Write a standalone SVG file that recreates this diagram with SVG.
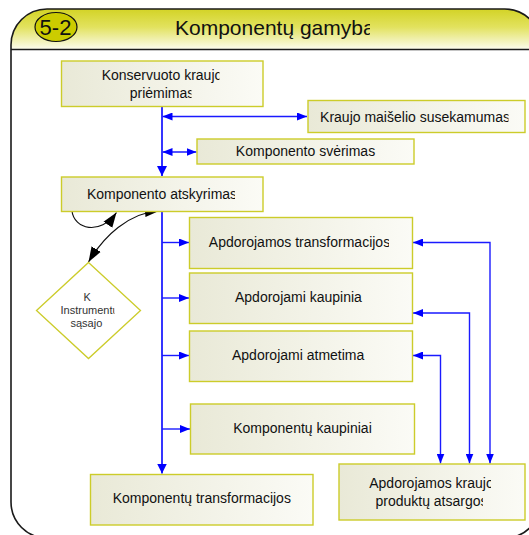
<svg xmlns="http://www.w3.org/2000/svg" width="529" height="535" viewBox="0 0 529 535">
  <defs>
    <linearGradient id="headFill" x1="0" y1="0" x2="0" y2="1">
      <stop offset="0" stop-color="#d3d326"/>
      <stop offset="0.45" stop-color="#e2e25e"/>
      <stop offset="1" stop-color="#fbfbec"/>
    </linearGradient>
    <linearGradient id="boxFill" x1="0" y1="0" x2="1" y2="0">
      <stop offset="0" stop-color="#e9e9d7"/>
      <stop offset="1" stop-color="#fbfbf6"/>
    </linearGradient>
    <marker id="blueHead" viewBox="0 0 10 8" refX="10" refY="4" markerUnits="userSpaceOnUse" markerWidth="10" markerHeight="8" orient="auto-start-reverse">
      <path d="M0,0 L10,4 L0,8 Z" fill="#0000ff"/>
    </marker>
    <marker id="blueBig" viewBox="0 0 10 10" refX="10" refY="5" markerUnits="userSpaceOnUse" markerWidth="10" markerHeight="11" orient="auto">
      <path d="M0,0 L10,5 L0,10 Z" fill="#0000ff"/>
    </marker>
    <marker id="blackHead" viewBox="0 0 14 10" refX="14" refY="5" markerUnits="userSpaceOnUse" markerWidth="15" markerHeight="11" orient="auto-start-reverse">
      <path d="M0,0 L14,5 L0,10 Z" fill="#000"/>
    </marker>
    <clipPath id="cTitle"><rect x="0" y="0" width="370" height="60"/></clipPath>
    <clipPath id="cB1a"><rect x="0" y="60" width="219.5" height="30"/></clipPath>
    <clipPath id="cB1b"><rect x="0" y="84" width="191.5" height="22"/></clipPath>
    <clipPath id="cB2"><rect x="0" y="100" width="508.5" height="32"/></clipPath>
    <clipPath id="cB4"><rect x="0" y="176" width="235" height="35"/></clipPath>
    <clipPath id="cB5"><rect x="0" y="217" width="389" height="51"/></clipPath>
    <clipPath id="cB10a"><rect x="0" y="464" width="491" height="27"/></clipPath>
    <clipPath id="cB10b"><rect x="0" y="491" width="483" height="29"/></clipPath>
    <clipPath id="cD"><rect x="0" y="300" width="114.5" height="16"/></clipPath>
    <style>
      .box { fill: url(#boxFill); stroke: #cccc2a; stroke-width: 1.4; }
      .lbl { font-family: "Liberation Sans", Arial, sans-serif; font-size: 14px; fill: #111; }
      .mid { text-anchor: middle; }
      .dtxt { font-family: "Liberation Sans", Arial, sans-serif; font-size: 11px; fill: #333; }
      .blue { fill: none; stroke: #1a1aff; stroke-width: 1.4; }
      .trunk { fill: none; stroke: #3535ff; stroke-width: 2; }
      .curve { fill: none; stroke: #111; stroke-width: 1.2; }
    </style>
  </defs>

  <!-- frame and header -->
  <g id="frame">
    <path d="M11,49 L11,45 A36,36 0 0 1 47,9 L504.7,9 A36,36 0 0 1 540.7,45 L540.7,49 Z" fill="url(#headFill)"/>
    <path d="M11,49 L11,502 A36,36 0 0 0 47,538 L504.7,538 A36,36 0 0 0 540.7,502 L540.7,45 A36,36 0 0 0 504.7,9 L47,9 A36,36 0 0 0 11,45 Z" fill="none" stroke="#1a1a1a" stroke-width="1.6"/>
    <line x1="11" y1="49.5" x2="541" y2="49.5" stroke="#1a1a1a" stroke-width="1.6"/>
    <ellipse cx="56" cy="27" rx="21" ry="14.5" fill="#cccc00" stroke="#111" stroke-width="1.2"/>
    <text x="55.5" y="34.5" font-family="'Liberation Sans', Arial, sans-serif" font-size="22" fill="#111" text-anchor="middle">5-2</text>
    <text x="175" y="35" font-family="'Liberation Sans', Arial, sans-serif" font-size="21" fill="#111" clip-path="url(#cTitle)">Komponentų gamyba</text>
  </g>

  <!-- connectors -->
  <g id="connectors">
    <!-- main trunk -->
    <path class="trunk" d="M162,106.5 L162,176" marker-end="url(#blueBig)"/>
    <path class="trunk" d="M162,212 L162,473.5" marker-end="url(#blueBig)"/>
    <!-- side links on the upper trunk -->
    <path class="blue" d="M162.5,116.5 L307,116.5" marker-start="url(#blueHead)" marker-end="url(#blueHead)"/>
    <path class="blue" d="M162.5,152 L196.5,152" marker-start="url(#blueHead)" marker-end="url(#blueHead)"/>
    <!-- branches to the processing boxes -->
    <path class="blue" d="M162,242.5 L189,242.5" marker-end="url(#blueHead)"/>
    <path class="blue" d="M162,298 L189,298" marker-end="url(#blueHead)"/>
    <path class="blue" d="M162,355.5 L189,355.5" marker-end="url(#blueHead)"/>
    <path class="blue" d="M162,429 L190,429" marker-end="url(#blueHead)"/>
    <!-- links from the stock box -->
    <path class="blue" d="M413,242.5 L490,242.5 L490,463.5" marker-start="url(#blueHead)" marker-end="url(#blueHead)"/>
    <path class="blue" d="M413,313 L469.5,313 L469.5,463.5" marker-start="url(#blueHead)" marker-end="url(#blueHead)"/>
    <path class="blue" d="M413,355.5 L440.5,355.5 L440.5,463.5" marker-start="url(#blueHead)" marker-end="url(#blueHead)"/>
    <!-- black curved links -->
    <path class="curve" d="M72,211 C74,229 100,236 116.5,212.5" marker-end="url(#blackHead)"/>
    <path class="curve" d="M88.5,262 C104,236 128,213 160,210.5" marker-start="url(#blackHead)" marker-end="url(#blackHead)"/>
  </g>

  <g id="n-priemimas">
    <rect class="box" x="61.5" y="61" width="201.5" height="45.5"/>
    <text class="lbl mid" x="162" y="79.5" clip-path="url(#cB1a)">Konservuoto kraujo</text>
    <text class="lbl mid" x="162" y="97.5" clip-path="url(#cB1b)">priėmimas</text>
  </g>
  <g id="n-susekamumas">
    <rect class="box" x="308" y="100.5" width="217" height="32"/>
    <text class="lbl mid" x="415" y="121.5" clip-path="url(#cB2)">Kraujo maišelio susekamumas</text>
  </g>
  <g id="n-sverimas">
    <rect class="box" x="197" y="139" width="217" height="25"/>
    <text class="lbl mid" x="305.5" y="156">Komponento svėrimas</text>
  </g>
  <g id="n-atskyrimas">
    <rect class="box" x="61.5" y="177" width="201.5" height="34.5"/>
    <text class="lbl mid" x="162" y="198.5" clip-path="url(#cB4)">Komponento atskyrimas</text>
  </g>
  <g id="n-sasaja">
    <polygon points="88.5,262.5 140.5,310.5 88.5,358.5 36.5,310.5" fill="#fff" stroke="#cccc2a" stroke-width="1.3"/>
    <text class="dtxt" x="83.5" y="300.5">K</text>
    <text class="dtxt" x="60.5" y="313.5" clip-path="url(#cD)">Instrumentų</text>
    <text class="dtxt" x="70.5" y="327">sąsajo</text>
  </g>
  <g id="n-apd-transformacijos">
    <rect class="box" x="189.5" y="217.5" width="223" height="51"/>
    <text class="lbl mid" x="299.5" y="246.5" clip-path="url(#cB5)">Apdorojamos transformacijos</text>
  </g>
  <g id="n-apd-kaupiniai">
    <rect class="box" x="189.5" y="273" width="223" height="50.5"/>
    <text class="lbl" x="235" y="301.5">Apdorojami kaupinia</text>
  </g>
  <g id="n-apd-atmetimai">
    <rect class="box" x="189.5" y="331" width="223" height="50.5"/>
    <text class="lbl" x="232" y="359.5">Apdorojami atmetima</text>
  </g>
  <g id="n-komp-kaupiniai">
    <rect class="box" x="190.5" y="404" width="224" height="50"/>
    <text class="lbl mid" x="302.5" y="433">Komponentų kaupiniai</text>
  </g>
  <g id="n-komp-transformacijos">
    <rect class="box" x="90.5" y="474.5" width="222.5" height="50.5"/>
    <text class="lbl mid" x="201.8" y="503">Komponentų transformacijos</text>
  </g>
  <g id="n-atsargos">
    <rect class="box" x="339" y="464" width="186" height="56"/>
    <text class="lbl mid" x="431.5" y="487.5" clip-path="url(#cB10a)">Apdorojamos kraujo</text>
    <text class="lbl mid" x="431.5" y="505.5" clip-path="url(#cB10b)">produktų atsargos</text>
  </g>
</svg>
